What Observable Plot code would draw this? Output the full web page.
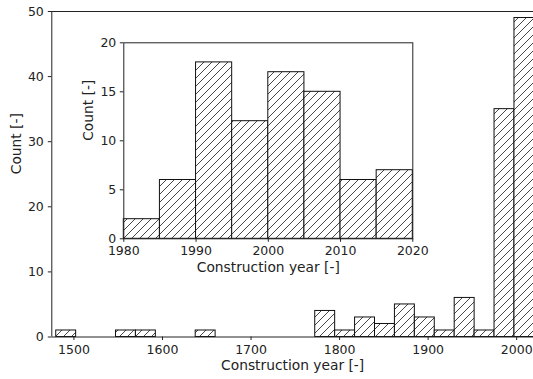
<!DOCTYPE html>
<html>
<head>
<meta charset="utf-8">
<script src="https://cdn.jsdelivr.net/npm/d3@7"></script>
<script src="https://cdn.jsdelivr.net/npm/@observablehq/plot@0.6"></script>
<style>
  html, body { margin: 0; padding: 0; background: white; overflow: hidden; }
  #wrap { position: relative; width: 533px; height: 379px; overflow: hidden; }
  #wrap svg { position: absolute; }
</style>
</head>
<body>
<div id="wrap"></div>
<script>
// ---- Data ----
const mainEdges = [1480, 1502.5, 1525, 1547.5, 1570, 1592.5, 1615, 1637.5, 1660, 1682.5, 1705, 1727.5, 1750, 1772.5, 1795, 1817.5, 1840, 1862.5, 1885, 1907.5, 1930, 1952.5, 1975, 1997.5, 2020];
const mainCounts = [1, 0, 0, 1, 1, 0, 0, 1, 0, 0, 0, 0, 0, 4, 1, 3, 2, 5, 3, 1, 6, 1, 35, 49];
const mainXTicks = [1500, 1600, 1700, 1800, 1900, 2000];
const mainYTicks = [0, 10, 20, 30, 40, 50];

const insetEdges = [1980, 1985, 1990, 1995, 2000, 2005, 2010, 2015, 2020];
const insetCounts = [2, 6, 18, 12, 17, 15, 6, 7];
const insetXTicks = [1980, 1990, 2000, 2010, 2020];
const insetYTicks = [0, 5, 10, 15, 20];

const xLabel = "Construction year [-]";
const yLabel = "Count [-]";

const mainBins = mainCounts.map((c, i) => ({x1: mainEdges[i], x2: mainEdges[i + 1], count: c})).filter(d => d.count > 0);
const insetBins = insetCounts.map((c, i) => ({x1: insetEdges[i], x2: insetEdges[i + 1], count: c}));

const FONT = "DejaVu Sans, sans-serif";
const FS = 12.5;   // tick labels
const LFS = 13.8;  // axis labels
const INK = "#222";

// ---- Main chart ----
const main = Plot.plot({
  width: 533, height: 379,
  marginLeft: 51.3, marginRight: 0, marginTop: 11, marginBottom: 42.5,
  style: {fontFamily: FONT, fontSize: FS + "px", color: INK, background: "transparent", overflow: "visible"},
  x: {domain: [1475, 2019]},
  y: {domain: [0, 50]},
  marks: [
    Plot.rect(mainBins, {x1: "x1", x2: "x2", y1: 0, y2: "count", fill: "url(#hatch)", stroke: "#111", strokeWidth: 1}),
    Plot.ruleX([1475], {y1: 0, y2: 50, stroke: INK, strokeWidth: 1}),
    Plot.ruleY([0, 50], {stroke: INK, strokeWidth: 1}),
    Plot.axisX(mainXTicks, {tickSize: 3.5, tickPadding: 5, tickFormat: d => String(d), label: null, fontSize: FS, stroke: INK}),
    Plot.axisY(mainYTicks, {tickSize: 3.5, tickPadding: 4.5, tickFormat: d => String(d), label: null, fontSize: FS, stroke: INK}),
    Plot.text([xLabel], {frameAnchor: "bottom", dy: 33, fontSize: LFS, fill: INK}),
    Plot.text([yLabel], {frameAnchor: "left", dx: -35.3, rotate: -90, fontSize: LFS, fill: INK})
  ]
});
main.style.left = "0px";
main.style.top = "0px";

// ---- Inset chart ----
const insetLeft = 60, insetTop = 30;
const inset = Plot.plot({
  width: 372.3, height: 253.3,
  marginLeft: 63.3, marginRight: 20, marginTop: 12.3, marginBottom: 45,
  style: {fontFamily: FONT, fontSize: FS + "px", color: INK, background: "transparent", overflow: "visible"},
  x: {domain: [1980, 2020]},
  y: {domain: [0, 20]},
  marks: [
    Plot.rect(insetBins, {x1: "x1", x2: "x2", y1: 0, y2: "count", fill: "url(#hatch)", stroke: "#111", strokeWidth: 1}),
    Plot.frame({stroke: INK, strokeWidth: 1}),
    Plot.axisX(insetXTicks, {tickSize: 3.5, tickPadding: 4, tickFormat: d => String(d), label: null, fontSize: FS, stroke: INK}),
    Plot.axisY(insetYTicks, {tickSize: 3.5, tickPadding: 4, tickFormat: d => String(d), label: null, fontSize: FS, stroke: INK}),
    Plot.text([xLabel], {frameAnchor: "bottom", dy: 33.5, fontSize: LFS, fill: INK}),
    Plot.text([yLabel], {frameAnchor: "left", dx: -35.3, rotate: -90, fontSize: LFS, fill: INK})
  ]
});
inset.style.left = insetLeft + "px";
inset.style.top = insetTop + "px";

// hatch pattern
const defs = d3.select(main).insert("defs", ":first-child");
const pat = defs.append("pattern").attr("id", "hatch").attr("patternUnits", "userSpaceOnUse").attr("width", 8).attr("height", 8);
pat.append("rect").attr("width", 8).attr("height", 8).attr("fill", "white");
pat.append("path").attr("d", "M-2,2 L2,-2 M0,8 L8,0 M6,10 L10,6").attr("stroke", "#333").attr("stroke-width", 0.9);

const wrap = document.getElementById("wrap");
wrap.appendChild(main);
wrap.appendChild(inset);
</script>
</body>
</html>
